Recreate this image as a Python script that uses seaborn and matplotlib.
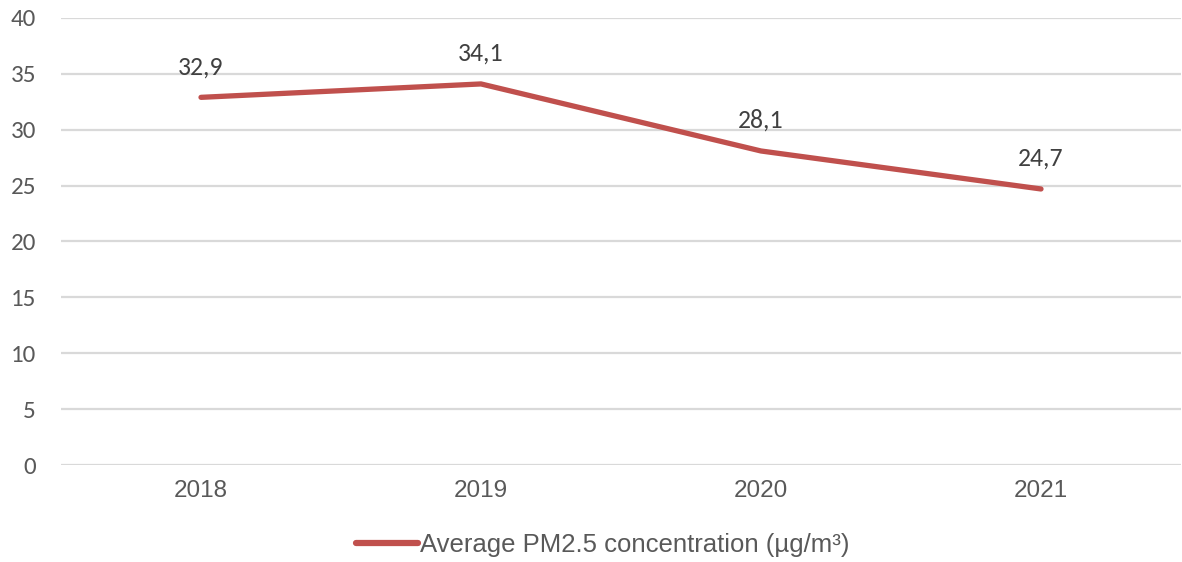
import matplotlib
matplotlib.use("Agg")
import matplotlib.pyplot as plt
import seaborn as sns
import pandas as pd

years = ["2018", "2019", "2020", "2021"]
pm25 = [32.9, 34.1, 28.1, 24.7]
value_labels = ["32,9", "34,1", "28,1", "24,7"]
series_name = "Average PM2.5 concentration (µg/m³)"
y_ticks = [0, 5, 10, 15, 20, 25, 30, 35, 40]

sns.set_theme(style="white")
plt.rcParams["font.family"] = ["Liberation Sans", "DejaVu Sans"]

df = pd.DataFrame({"year": years, "value": pm25, "series": series_name})

fig = plt.figure(figsize=(11.82, 5.62), dpi=100)
ax = fig.add_axes([61 / 1182, 1 - 465 / 562, 1120 / 1182, (465 - 18) / 562])

line_color = "#C0504D"
sns.lineplot(data=df, x="year", y="value", hue="series", palette=[line_color],
             linewidth=3.8, ax=ax, legend=False, sort=False,
             solid_capstyle="round")

label_font = ["Carlito", "Lato", "DejaVu Sans"]
for i, (v, lab) in enumerate(zip(pm25, value_labels)):
    ax.annotate(lab, xy=(i, v), xytext=(0, 22), textcoords="offset points",
                ha="center", va="center", fontsize=18.5, color="#404040",
                family=label_font)

ax.set_xlim(-0.5, 3.5)
ax.set_ylim(0, 40)
ax.set_yticks(y_ticks)
ax.yaxis.grid(True, color="#D9D9D9", linewidth=1.6)
ax.xaxis.grid(False)
ax.set_axisbelow(True)
for s in ax.spines.values():
    s.set_visible(False)
ax.set_xlabel("")
ax.set_ylabel("")
ax.tick_params(axis="x", length=0, pad=11, labelsize=17.5, labelcolor="#595959")
ax.tick_params(axis="y", length=0, pad=18, labelsize=18, labelcolor="#595959")
for t in ax.get_yticklabels():
    t.set_family(label_font)
    t.set_horizontalalignment("right")

handle = plt.Line2D([], [], color=line_color, linewidth=4.5, solid_capstyle="round")
fig.legend([handle], [series_name], loc="center",
           bbox_to_anchor=(0.5 + 12 / 1182, 1 - 545 / 562),
           frameon=False, fontsize=18.5, handlelength=2.4, handletextpad=0.1,
           labelcolor="#595959")

fig.savefig("out.png", dpi=100)
